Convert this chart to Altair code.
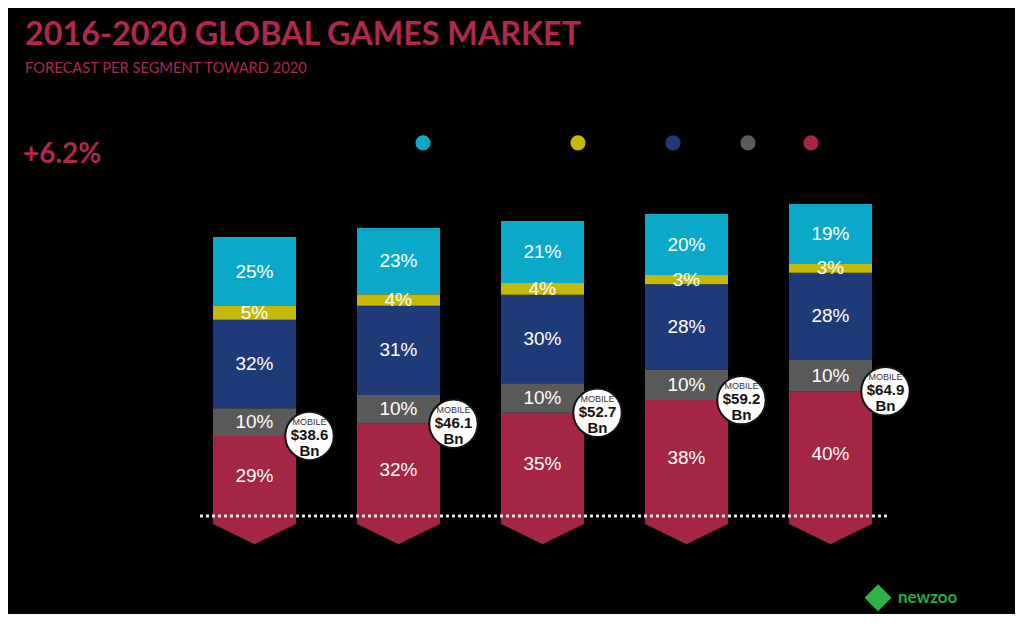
import altair as alt
import pandas as pd

# ---------------- data ----------------
years = ["2016", "2017", "2018", "2019", "2020"]
segments = ["Boxed/Downloaded PC", "Browser PC", "Console", "Tablet", "Smartphone"]
seg_colors = ["#0aa9c9", "#c4b90b", "#1f3a78", "#5a5a5a", "#a52544"]

pct_pc = [25, 23, 21, 20, 19]
pct_browser = [5, 4, 4, 3, 3]
pct_console = [32, 31, 30, 28, 28]
pct_tablet = [10, 10, 10, 10, 10]
pct_smartphone = [29, 32, 35, 38, 40]

mobile_bn = [38.6, 46.1, 52.7, 59.2, 64.9]
# relative heights of the bars as drawn (2016 = 100)
bar_height = [100, 103.2, 105.7, 108.2, 111.8]

title_text = "2016-2020 GLOBAL GAMES MARKET"
subtitle_text = "FORECAST PER SEGMENT TOWARD 2020"
cagr_text = "+6.2%"
brand_text = "newzoo"

# ---------------- build tables ----------------
pct_by_seg = {
    "Boxed/Downloaded PC": pct_pc,
    "Browser PC": pct_browser,
    "Console": pct_console,
    "Tablet": pct_tablet,
    "Smartphone": pct_smartphone,
}
stack_order = ["Smartphone", "Tablet", "Console", "Browser PC", "Boxed/Downloaded PC"]

rows = []
circle_rows = []
for i, yr in enumerate(years):
    total_pct = sum(pct_by_seg[s][i] for s in segments)
    base = 0.0
    for s in stack_order:
        p = pct_by_seg[s][i]
        v = p / total_pct * bar_height[i]
        rows.append({"year": yr, "segment": s, "pct": p, "label": f"{p}%",
                     "y0": base, "y1": base + v, "mid": base + v / 2})
        if s == "Smartphone":
            circle_rows.append({"year": yr, "ytop": base + v,
                                "value": f"${mobile_bn[i]}"})
        base += v
df = pd.DataFrame(rows)
dfc = pd.DataFrame(circle_rows)
dfy = pd.DataFrame({"year": years})

W = 720
H = 348.75
x_enc = alt.X("year:N", axis=None,
              scale=alt.Scale(paddingInner=0, paddingOuter=0))
y_scale = alt.Scale(domain=[-10, 115], nice=False, zero=False)

color = alt.Color("segment:N",
                  scale=alt.Scale(domain=segments, range=seg_colors),
                  legend=alt.Legend(title=None, orient="none",
                                    legendX=232.5, legendY=-60.5,
                                    direction="horizontal",
                                    symbolType="circle", symbolSize=230,
                                    symbolStrokeWidth=0,
                                    labelColor="#000000",
                                    labelFont="Liberation Sans",
                                    labelFontSize=12, labelOffset=4,
                                    columnPadding=10, padding=0))

bars = alt.Chart(df).mark_bar(size=83).encode(
    x=x_enc,
    y=alt.Y("y0:Q", scale=y_scale, axis=None),
    y2="y1:Q",
    color=color,
)

chev_path = "M-1,-0.06 L1,-0.06 L1,0.19 L0,0.68 L-1,0.19 Z"
chevron = alt.Chart(dfy).mark_point(shape=chev_path, filled=True, size=6889,
                                    color="#a52544", opacity=1,
                                    strokeWidth=0).encode(
    x=x_enc, y=alt.datum(0, scale=y_scale))

labels = alt.Chart(df).mark_text(font="Liberation Sans", fontSize=19,
                                 color="white").encode(
    x=x_enc, y=alt.Y("mid:Q", scale=y_scale), text="label:N")

dotted = alt.Chart(pd.DataFrame({"z": [0]})).mark_rule(
    color="#e6e6e6", strokeWidth=3, strokeDash=[3, 3]).encode(
    x=alt.value(17.5), x2=alt.value(705.5), y=alt.Y("z:Q", scale=y_scale))

CX = 55
circles = alt.Chart(dfc).mark_point(shape="circle", filled=True, size=2350,
                                    fill="white", stroke="#111111",
                                    strokeWidth=2, opacity=1,
                                    xOffset=CX).encode(
    x=x_enc, y=alt.Y("ytop:Q", scale=y_scale))
c_mobile = alt.Chart(dfc).mark_text(font="Liberation Sans", fontSize=9,
                                    color="#333333", xOffset=CX,
                                    dy=-14).encode(
    x=x_enc, y=alt.Y("ytop:Q", scale=y_scale), text=alt.value("MOBILE"))
c_value = alt.Chart(dfc).mark_text(font="Liberation Sans", fontSize=15,
                                   fontWeight="bold", color="#111111",
                                   xOffset=CX, dy=-1).encode(
    x=x_enc, y=alt.Y("ytop:Q", scale=y_scale), text="value:N")
c_bn = alt.Chart(dfc).mark_text(font="Liberation Sans", fontSize=15,
                                fontWeight="bold", color="#111111",
                                xOffset=CX, dy=15).encode(
    x=x_enc, y=alt.Y("ytop:Q", scale=y_scale), text=alt.value("Bn"))

def note(text, x, y, size, weight="normal", color="#b0284c", font="Lato"):
    return alt.Chart(pd.DataFrame({"t": [text]})).mark_text(
        font=font, fontSize=size, fontWeight=weight, color=color,
        align="left", baseline="alphabetic").encode(
        x=alt.value(x), y=alt.value(y), text="t:N")

title = note(title_text, -157.5, -150.0, 32.3, "bold")
subtitle = note(subtitle_text, -157.5, -122.5, 14.7)
cagr = note(cagr_text, -159.5, -32.5, 28, "bold")
brand = note(brand_text, 715.5, 408, 17, "bold", "#22ad4b")
logo = alt.Chart(pd.DataFrame({"t": [0]})).mark_point(
    shape="diamond", filled=True, size=729, color="#2db34a", opacity=1).encode(
    x=alt.value(695.5), y=alt.value(402.5))

chart = alt.layer(bars, chevron, labels, dotted, circles, c_mobile, c_value,
                  c_bn, title, subtitle, cagr, logo, brand).properties(
    width=W, height=H,
    autosize=alt.AutoSizeParams(type="none"),
    padding={"left": 174.5, "top": 187.15, "right": 112.5, "bottom": 70},
    background="#000000",
).configure_view(stroke=None)

chart.save("out.html", embed_options={"renderer": "svg", "actions": False})
